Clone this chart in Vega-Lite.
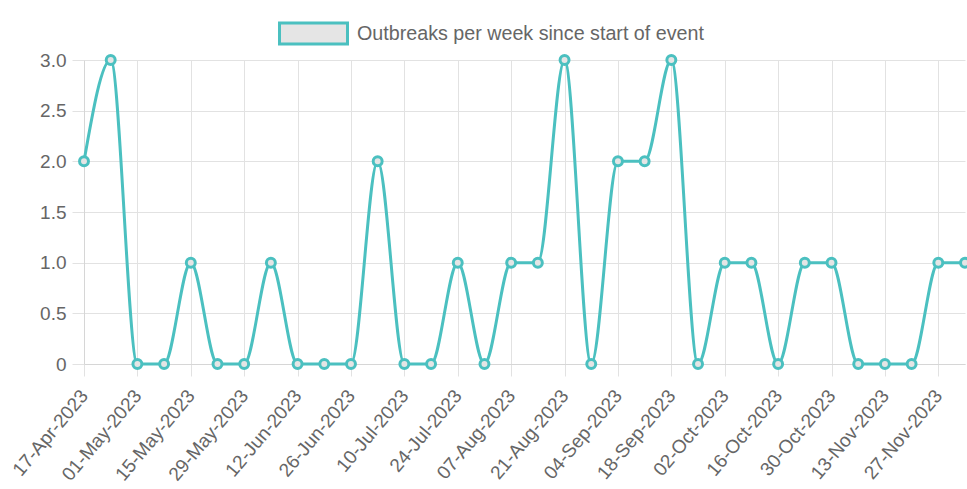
{
  "$schema": "https://vega.github.io/schema/vega-lite/v6.json",
  "width": 881,
  "height": 304,
  "autosize": {"type": "none"},
  "padding": {"left": 84, "top": 60, "right": 2, "bottom": 125},
  "background": "#ffffff",
  "config": {
    "view": {"stroke": null},
    "font": "Liberation Sans",
    "axis": {
      "gridColor": "#e2e2e2",
      "tickColor": "#e2e2e2",
      "domainColor": "#d6d6d6",
      "labelColor": "#666666",
      "labelFont": "Liberation Sans",
      "labelFontSize": 19,
      "tickSize": 12,
      "title": null
    }
  },
  "data": {
    "values": [
      {"week": "17-Apr-2023", "outbreaks": 2},
      {"week": "24-Apr-2023", "outbreaks": 3},
      {"week": "01-May-2023", "outbreaks": 0},
      {"week": "08-May-2023", "outbreaks": 0},
      {"week": "15-May-2023", "outbreaks": 1},
      {"week": "22-May-2023", "outbreaks": 0},
      {"week": "29-May-2023", "outbreaks": 0},
      {"week": "05-Jun-2023", "outbreaks": 1},
      {"week": "12-Jun-2023", "outbreaks": 0},
      {"week": "19-Jun-2023", "outbreaks": 0},
      {"week": "26-Jun-2023", "outbreaks": 0},
      {"week": "03-Jul-2023", "outbreaks": 2},
      {"week": "10-Jul-2023", "outbreaks": 0},
      {"week": "17-Jul-2023", "outbreaks": 0},
      {"week": "24-Jul-2023", "outbreaks": 1},
      {"week": "31-Jul-2023", "outbreaks": 0},
      {"week": "07-Aug-2023", "outbreaks": 1},
      {"week": "14-Aug-2023", "outbreaks": 1},
      {"week": "21-Aug-2023", "outbreaks": 3},
      {"week": "28-Aug-2023", "outbreaks": 0},
      {"week": "04-Sep-2023", "outbreaks": 2},
      {"week": "11-Sep-2023", "outbreaks": 2},
      {"week": "18-Sep-2023", "outbreaks": 3},
      {"week": "25-Sep-2023", "outbreaks": 0},
      {"week": "02-Oct-2023", "outbreaks": 1},
      {"week": "09-Oct-2023", "outbreaks": 1},
      {"week": "16-Oct-2023", "outbreaks": 0},
      {"week": "23-Oct-2023", "outbreaks": 1},
      {"week": "30-Oct-2023", "outbreaks": 1},
      {"week": "06-Nov-2023", "outbreaks": 0},
      {"week": "13-Nov-2023", "outbreaks": 0},
      {"week": "20-Nov-2023", "outbreaks": 0},
      {"week": "27-Nov-2023", "outbreaks": 1},
      {"week": "04-Dec-2023", "outbreaks": 1}
    ]
  },
  "encoding": {
    "x": {
      "field": "week",
      "type": "ordinal",
      "sort": null,
      "scale": {"type": "point", "padding": 0},
      "axis": {
        "values": ["17-Apr-2023", "01-May-2023", "15-May-2023", "29-May-2023", "12-Jun-2023", "26-Jun-2023", "10-Jul-2023", "24-Jul-2023", "07-Aug-2023", "21-Aug-2023", "04-Sep-2023", "18-Sep-2023", "02-Oct-2023", "16-Oct-2023", "30-Oct-2023", "13-Nov-2023", "27-Nov-2023"],
        "labelAngle": -50,
        "labelAlign": "right",
        "labelBaseline": "middle",
        "labelPadding": 16,
        "grid": true,
        "domain": true
      }
    },
    "y": {
      "field": "outbreaks",
      "type": "quantitative",
      "scale": {"domain": [0, 3], "nice": false, "zero": true},
      "axis": {
        "values": [0, 0.5, 1, 1.5, 2, 2.5, 3],
        "labelExpr": "datum.value == 0 ? '0' : format(datum.value, '.1f')",
        "labelPadding": 6,
        "grid": true,
        "domain": true
      }
    },
    "stroke": {
      "datum": "Outbreaks per week since start of event",
      "type": "nominal",
      "scale": {"range": ["#4bc0c0"]},
      "legend": {
        "title": null,
        "orient": "none",
        "legendX": 194,
        "legendY": -62,
        "padding": 0,
        "symbolType": "M-1,-0.31H1V0.31H-1Z",
        "symbolSize": 4624,
        "symbolFillColor": "#e5e5e5",
        "symbolStrokeWidth": 3,
        "symbolOpacity": 1,
        "labelFontSize": 19.7,
        "labelColor": "#666666",
        "labelFont": "Liberation Sans",
        "labelOffset": 8,
        "labelLimit": 600
      }
    }
  },
  "layer": [
    {
      "mark": {"type": "line", "interpolate": "monotone", "strokeWidth": 3}
    },
    {
      "mark": {"type": "point", "filled": false, "fill": "#e5e5e5", "fillOpacity": 1, "opacity": 1, "size": 80, "strokeWidth": 3}
    }
  ]
}
